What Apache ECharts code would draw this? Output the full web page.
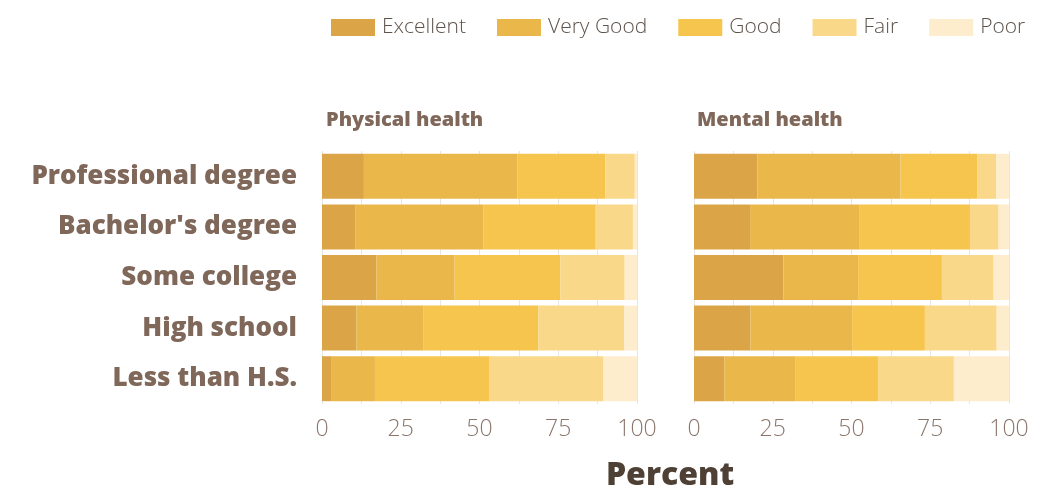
<!DOCTYPE html>
<html><head><meta charset="utf-8">
<script src="https://cdn.jsdelivr.net/npm/echarts@6/dist/echarts.min.js"></script>
<style>html,body{margin:0;padding:0;background:#fff}#c{width:1047px;height:488px}</style>
</head><body><div id="c"></div>
<script>
const categories = ["Professional degree", "Bachelor's degree", "Some college", "High school", "Less than H.S."];
const levels = ["Excellent", "Very Good", "Good", "Fair", "Poor"];
const colors = ["#DBA547", "#E9B74A", "#F5C54D", "#F9D88A", "#FEEDCC"];
const panels = ["Physical health", "Mental health"];
const xTicks = [0, 25, 50, 75, 100];
// physical health, per level, per category
const physExcellent = [13.3, 10.7, 17.3, 10.9, 3.1];
const physVeryGood  = [48.8, 40.6, 24.8, 21.2, 13.7];
const physGood      = [27.8, 35.6, 33.6, 36.6, 36.4];
const physFair      = [9.4, 11.8, 20.4, 27.2, 36.0];
const physPoor      = [0.7, 1.3, 3.9, 4.1, 10.8];
// mental health
const mentExcellent = [20.1, 17.8, 28.4, 17.9, 9.6];
const mentVeryGood  = [45.5, 34.6, 23.7, 32.3, 22.7];
const mentGood      = [24.3, 35.2, 26.6, 23.1, 26.1];
const mentFair      = [6.0, 9.1, 16.4, 22.8, 24.1];
const mentPoor      = [4.1, 3.3, 4.9, 3.9, 17.5];

const physData = [physExcellent, physVeryGood, physGood, physFair, physPoor];
const mentData = [mentExcellent, mentVeryGood, mentGood, mentFair, mentPoor];

const labelColor = '#7F6759';
const grids = [
  {left: 322, width: 315, top: 151, height: 253},
  {left: 694, width: 315, top: 151, height: 253}
];
function xAxis(i) {
  return {
    type: 'value', gridIndex: i, min: 0, max: 100, interval: 12.5,
    axisLine: {show: false}, axisTick: {show: false},
    splitLine: {show: true, lineStyle: {color: '#E6E6E6', width: 1}},
    axisLabel: {
      margin: 14, color: '#8A766B', fontSize: 23, fontFamily: 'Open Sans', fontWeight: 300,
      formatter: v => xTicks.indexOf(v) >= 0 ? String(v) : ''
    }
  };
}
function yAxis(i) {
  return {
    type: 'category', gridIndex: i, data: categories, inverse: true,
    axisLine: {show: false}, axisTick: {show: false},
    axisLabel: {show: i === 0, margin: 25, color: labelColor, fontSize: 26,
      fontFamily: 'Open Sans', fontWeight: 800}
  };
}
const series = [];
[physData, mentData].forEach((d, gi) => {
  levels.forEach((lv, li) => {
    series.push({
      name: lv, type: 'bar', stack: 'p' + gi, xAxisIndex: gi, yAxisIndex: gi,
      data: d[li], barWidth: 45, itemStyle: {color: colors[li]},
      emphasis: {disabled: true}, animation: false
    });
  });
});
const chart = echarts.init(document.getElementById('c'), null, {renderer: 'canvas'});
chart.setOption({
  backgroundColor: '#fff',
  animation: false,
  color: colors,
  legend: {
    data: levels, top: 12, left: 326, itemWidth: 44, itemHeight: 17, itemGap: 31,
    icon: 'rect',
    textStyle: {color: '#5E534B', fontSize: 21, fontFamily: 'Open Sans', fontWeight: 300, padding: [0, 0, 0, 2]}
  },
  title: [
    {text: panels[0], left: 321, top: 105, textStyle: {color: labelColor, fontSize: 20, fontFamily: 'Open Sans', fontWeight: 800}},
    {text: panels[1], left: 692, top: 105, textStyle: {color: labelColor, fontSize: 20, fontFamily: 'Open Sans', fontWeight: 800}},
    {text: 'Percent', left: 665, top: 455, textAlign: 'center', textStyle: {color: '#4E4034', fontSize: 32, fontFamily: 'Open Sans', fontWeight: 800}}
  ],
  grid: grids,
  xAxis: [xAxis(0), xAxis(1)],
  yAxis: [yAxis(0), yAxis(1)],
  series: series
});
</script></body></html>
